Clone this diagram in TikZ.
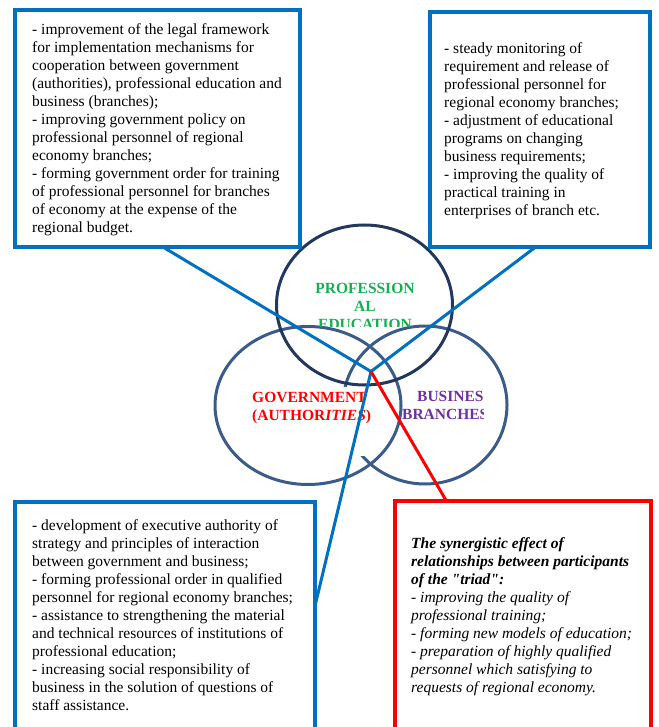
\documentclass[tikz,border=0pt]{standalone}
\usepackage{fontspec}
\setmainfont{Liberation Serif}[Ligatures=TeXOff]
\usetikzlibrary{calc}
\definecolor{boxblue}{RGB}{0,112,192}
\definecolor{boxred}{RGB}{255,0,0}
\definecolor{topcirc}{RGB}{34,56,94}
\definecolor{sidecirc}{RGB}{59,92,138}
\definecolor{edugreen}{RGB}{20,176,80}
\definecolor{buspurple}{RGB}{112,48,160}
\begin{document}
\begin{tikzpicture}[x=1pt,y=-1pt,
  bluebox/.style={draw=boxblue, line width=4pt, fill=white, rectangle, inner sep=0pt, outer sep=0pt, anchor=north west},
  redbox/.style={draw=boxred, line width=4pt, fill=white, rectangle, inner sep=0pt, outer sep=0pt, anchor=north west},
  bodytext/.style={anchor=north west, inner sep=0pt, align=left, font=\fontsize{15.5}{18}\selectfont},
  ctext/.style={inner sep=0pt, font=\fontsize{15.5}{18}\selectfont\bfseries},
  sidering/.style={draw=sidecirc, line width=3pt},
  topring/.style={draw=topcirc, line width=3pt},
  conblue/.style={draw=boxblue, line width=3pt},
  conred/.style={draw=boxred, line width=3pt}]
\clip (0,0) rectangle (658,727);
% circles
\draw[sidering] (308,405.5) ellipse [x radius=93, y radius=79];
\draw[sidering] (425,405) ellipse [x radius=82, y radius=79];
\fill[white] (240,387) rectangle (368,456);
\draw[topring] (364.5,305) ellipse [x radius=88, y radius=80];
% boxes
\node[bluebox, minimum width=285pt, minimum height=236.5pt] (tl) at (15,10) {};
\node[bluebox, minimum width=220pt, minimum height=235pt] (tr) at (430,12) {};
\node[bluebox, minimum width=299.5pt, minimum height=258pt] (bl) at (15,502) {};
\node[redbox, minimum width=255.5pt, minimum height=259.5pt] (rd) at (395,500.5) {};
% box texts
\node[bodytext] (tltext) at (32,21.7) {\strut- improvement of the legal framework\\
for implementation mechanisms for\\
cooperation between government\\
(authorities), professional education and\\
business (branches);\\
- improving government policy on\\
professional personnel of regional\\
economy branches;\\
- forming government order for training\\
of professional personnel for branches\\
of economy at the expense of the\\
regional budget.};
\node[bodytext] (trtext) at (444,40.7) {\strut- steady monitoring of\\
requirement and release of\\
professional personnel for\\
regional economy branches;\\
- adjustment of educational\\
programs on changing\\
business requirements;\\
- improving the quality of\\
practical training in\\
enterprises of branch etc.};
\node[bodytext] (bltext) at (32,517.4) {\strut- development of executive authority of\\
strategy and principles of interaction\\
between government and business;\\
- forming professional order in qualified\\
personnel for regional economy branches;\\
- assistance to strengthening the material\\
and technical resources of institutions of\\
professional education;\\
- increasing social responsibility of\\
business in the solution of questions of\\
staff assistance.};
\node[bodytext, font=\fontsize{15.5}{18}\selectfont\itshape] (rdtext) at (411,535.7) {\strut\textbf{The synergistic effect of}\\
\textbf{relationships between participants}\\
\textbf{of the "triad":}\\
- improving the quality of\\
professional training;\\
- forming new models of education;\\
- preparation of highly qualified\\
personnel which satisfying to\\
requests of regional economy.};
% circle labels
\begin{scope}
\clip (270,220) rectangle (460,326);
\node[ctext, text=edugreen, align=center, anchor=north] (edu) at (365,280.4) {\strut PROFESSION\\AL\\EDUCATION};
\end{scope}
\node[ctext, text=boxred, align=left, anchor=north west] (gov) at (252,389.4) {\strut GOVERNMENT\\(AUTHOR\textit{ITIES})};
\begin{scope}
\clip (395,380) rectangle (483,430);
\node[ctext, text=buspurple, align=left, anchor=north west] (bus) at (402,388.4) {\strut\hspace*{15pt}BUSINESS\\BRANCHES};
\end{scope}
% connectors
\coordinate (j) at (371,371.5);
\draw[conblue] ($(tl.south west)!0.516!(tl.south east)$) -- (j);
\draw[conblue] ($(tr.south west)!0.48!(tr.south east)$) -- (j);
\draw[conblue] (j) -- ($(bl.north east)+(0,106)$);
\draw[conred] (j) -- ($(rd.north west)!0.2!(rd.north east)$);
\end{tikzpicture}
\end{document}
